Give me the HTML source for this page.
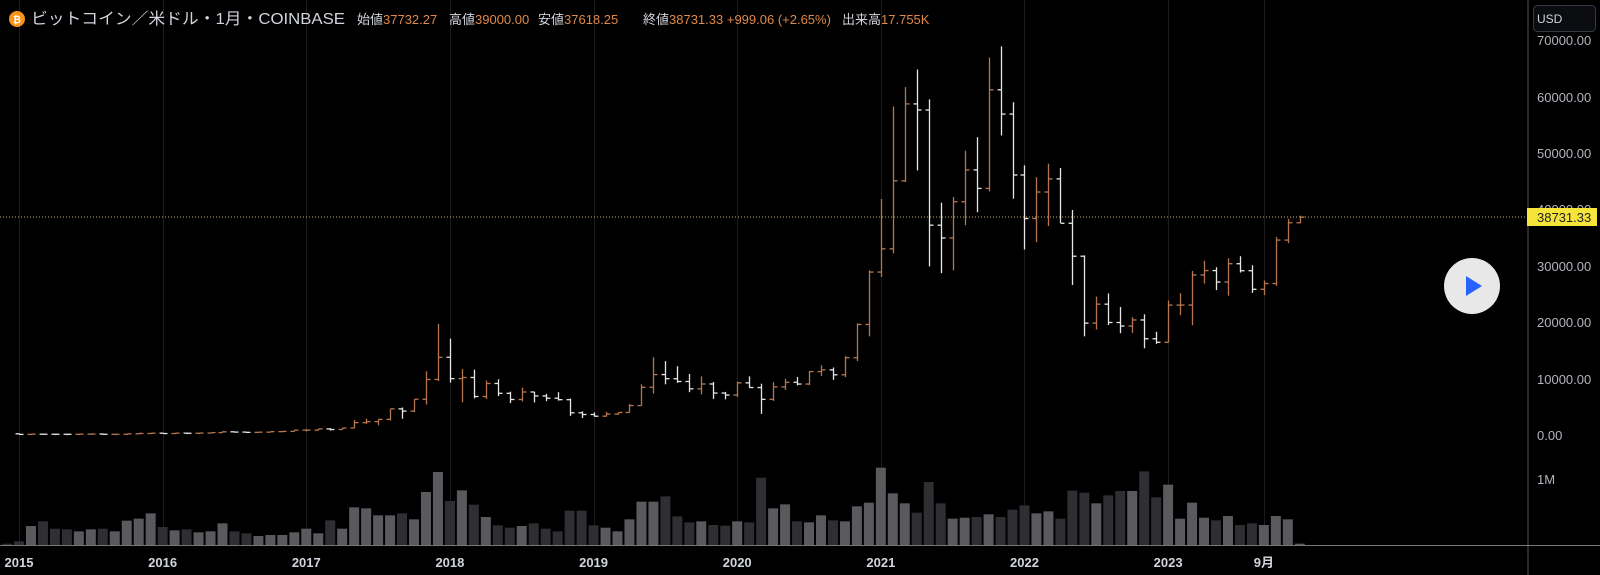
<!DOCTYPE html>
<html><head><meta charset="utf-8">
<style>
html,body{margin:0;padding:0;background:#000;width:1600px;height:575px;overflow:hidden}
svg{display:block}
text{font-family:"Liberation Sans","Noto Sans CJK JP",sans-serif}
</style></head><body>
<svg id="s" width="1600" height="575" xmlns="http://www.w3.org/2000/svg">
<rect width="1600" height="575" fill="#000"/>
<g id="grid"></g>
<g id="vol"></g>
<g id="bars"></g>
<line x1="0" y1="217" x2="1528" y2="217" stroke="#c8b46a" stroke-width="1" stroke-dasharray="1,2"/>
<line x1="1528" y1="0" x2="1528" y2="575" stroke="#555" stroke-width="1"/>
<line x1="0" y1="545.5" x2="1600" y2="545.5" stroke="#777" stroke-width="1"/>
<g font-size="13" fill="#b2b5be">
<text x="1537" y="45">70000.00</text>
<text x="1537" y="102">60000.00</text>
<text x="1537" y="158">50000.00</text>
<text x="1537" y="214">40000.00</text>
<text x="1537" y="271">30000.00</text>
<text x="1537" y="327">20000.00</text>
<text x="1537" y="384">10000.00</text>
<text x="1537" y="440">0.00</text>
<text x="1537" y="484">1M</text>
</g>
<rect x="1527" y="208" width="70" height="18" fill="#f5e43a"/>
<text x="1537" y="222" font-size="13" fill="#222">38731.33</text>
<rect x="1533.5" y="5.5" width="62" height="26" rx="4" fill="#0a0c10" stroke="#363a45"/>
<text x="1537" y="23" font-size="12" fill="#d1d4dc">USD</text>
<circle cx="1472" cy="286" r="28" fill="#e8e8e8"/>
<polygon points="1466,276 1466,296 1482,286" fill="#2962ff"/>
<g id="xl" font-size="13" font-weight="bold" fill="#d1d4dc" text-anchor="middle"></g>
<circle cx="17" cy="19" r="8" fill="#f7931a"/>
<text x="17" y="23" font-size="10" font-weight="bold" fill="#fff" text-anchor="middle">₿</text>
<text x="31" y="24" font-size="16" fill="#d1d4dc" textLength="314" lengthAdjust="spacingAndGlyphs">ビットコイン／米ドル・1月・COINBASE</text>
<text x="357" y="24" font-size="13" fill="#d1d4dc">始値<tspan fill="#e0884a">37732.27</tspan></text>
<text x="449" y="24" font-size="13" fill="#d1d4dc">高値<tspan fill="#e0884a">39000.00</tspan></text>
<text x="538" y="24" font-size="13" fill="#d1d4dc">安値<tspan fill="#e0884a">37618.25</tspan></text>
<text x="643" y="24" font-size="13" fill="#d1d4dc">終値<tspan fill="#e0884a">38731.33 +999.06 (+2.65%)</tspan></text>
<text x="842" y="24" font-size="13" fill="#d1d4dc">出来高<tspan fill="#e0884a">17.755K</tspan></text>
</svg>
<script>
var d=[
[320,320,170,217],[217,265,212,254],[254,300,236,244],[244,260,214,236],[236,247,225,230],[230,268,218,263],[263,318,252,285],[285,290,195,230],[230,247,225,236],[236,335,235,313],[313,500,300,377],[377,465,345,430],
[430,460,355,369],[369,445,365,437],[437,441,398,416],[416,467,413,448],[448,550,440,531],[531,780,526,673],[673,704,585,624],[624,627,465,574],[574,615,570,609],[609,719,606,700],[700,756,680,744],[744,980,740,963],
[963,1160,750,965],[965,1200,920,1190],[1190,1300,890,1080],[1080,1350,1070,1350],[1350,2760,1350,2300],[2300,3000,2080,2480],[2480,2920,1830,2880],[2880,4760,2670,4740],[4740,4980,2980,4340],[4340,6470,4180,6450],[6450,11400,5520,9950],[9950,19800,9680,13880],
[13880,17200,9400,10100],[10100,11800,5900,10300],[10300,11700,6600,6930],[6930,9770,6500,9240],[9240,10000,7000,7500],[7500,7780,5760,6400],[6400,8500,6060,7730],[7730,7760,5880,7030],[7030,7400,6100,6630],[6630,7700,6200,6370],[6370,6570,3500,4040],[4040,4300,3120,3740],
[3740,4100,3350,3440],[3440,4200,3370,3810],[3810,4110,3680,4100],[4100,5600,4060,5320],[5320,9100,5300,8570],[8570,13900,7450,10820],[10820,13200,9100,10090],[10090,12300,9350,9590],[9590,10920,7700,8290],[8290,10500,7300,9150],[9150,9500,6500,7540],[7540,7750,6430,7190],
[7190,9570,6850,9350],[9350,10500,8450,8520],[8520,9200,3850,6420],[6420,9480,6150,8630],[8630,10070,8100,9450],[9450,10380,8900,9140],[9140,11440,8950,11350],[11350,12480,10540,11650],[11650,12070,9880,10780],[10780,14100,10370,13800],[13800,19900,13200,19700],[19700,29300,17600,28990],
[28990,41950,28130,33110],[33110,58350,32300,45160],[45160,61780,44950,58800],[58800,64900,47000,57720],[57720,59600,30000,37300],[37300,41300,28800,35040],[35040,42300,29300,41460],[41460,50500,37300,47100],[47100,52900,39600,43820],[43820,67000,43300,61300],[61300,69000,53200,57000],[57000,59100,42000,46200],
[46200,47900,33000,38480],[38480,45800,34300,43180],[43180,48200,37150,45510],[45510,47450,37700,37640],[37640,40000,26700,31800],[31800,31950,17600,19940],[19940,24650,18800,23300],[23300,25200,19600,20050],[20050,22800,18150,19420],[19420,20990,18200,20500],[20500,21500,15480,17170],[17170,18400,16260,16540],
[16540,23950,16500,23130],[23130,25250,21350,23140],[23140,29200,19550,28480],[28480,31000,26950,29250],[29250,29840,25800,27220],[27220,31430,24800,30470],[30470,31800,28900,29230],[29230,30200,25300,25940],[25940,27500,24900,26960],[26960,35200,26550,34660],[34660,38430,34100,37730],[37730,39000,37618,38731]];
var v=[276,230,216,238,240,246,240,238,246,214,208,192,
233,243,240,249,246,222,246,252,260,257,257,249,
238,252,213,238,174,177,198,198,192,210,128,68,
155,123,166,203,228,235,230,222,238,246,184,184,
228,235,246,210,157,157,141,201,219,216,227,229,
216,219,85,177,165,216,219,198,213,216,171,160,
55,132,162,190,98,162,208,205,203,195,203,181,
168,192,186,208,124,130,162,138,125,125,66,144,
106,208,160,205,213,200,227,222,227,200,210,283];
var NS="http://www.w3.org/2000/svg";
function el(p,t,a){var e=document.createElementNS(NS,t);for(var k in a)e.setAttribute(k,a[k]);p.appendChild(e);return e;}
function X(i){return 19+11.97*i;}
function Y(p){return 435.6-p*0.005641;}
var g=document.getElementById('grid'),vb=document.getElementById('vol'),bb=document.getElementById('bars'),xl=document.getElementById('xl');
var yrs=['2015','2016','2017','2018','2019','2020','2021','2022','2023'];
for(var k=0;k<9;k++){var x=Math.round(X(k*12))+0.5;el(g,'line',{x1:x,y1:0,x2:x,y2:545,stroke:'#1c1c1e','stroke-width':1});var t=el(xl,'text',{x:X(k*12),y:567});t.textContent=yrs[k];}
var x9=Math.round(X(104))+0.5;el(g,'line',{x1:x9,y1:0,x2:x9,y2:545,stroke:'#1c1c1e','stroke-width':1});
var t9=el(xl,'text',{x:X(104),y:567});t9.textContent='9月';
el(vb,'rect',{x:X(-1)-5,y:545-(287-283)/3,width:10,height:(287-283)/3,fill:'#2d2d31'});
for(var i=0;i<d.length;i++){
 var o=d[i][0],h=d[i][1],l=d[i][2],c=d[i][3],up=c>=o,x=X(i);
 var hh=(287-v[i])/3;
 el(vb,'rect',{x:x-5,y:545-hh,width:10,height:hh,fill:up?'#5a5a5e':'#2e2e33'});
 var col=up?'#b8764f':'#e6e6e6';
 var xr=Math.round(x)+0.5;
 el(bb,'line',{x1:xr,y1:Y(h),x2:xr,y2:Math.max(Y(l),Y(h)+1),stroke:col,'stroke-width':1.3});
 el(bb,'line',{x1:xr-4,y1:Y(o),x2:xr,y2:Y(o),stroke:col,'stroke-width':1.3});
 el(bb,'line',{x1:xr,y1:Y(c),x2:xr+4,y2:Y(c),stroke:col,'stroke-width':1.3});
}
</script>
</body></html>
